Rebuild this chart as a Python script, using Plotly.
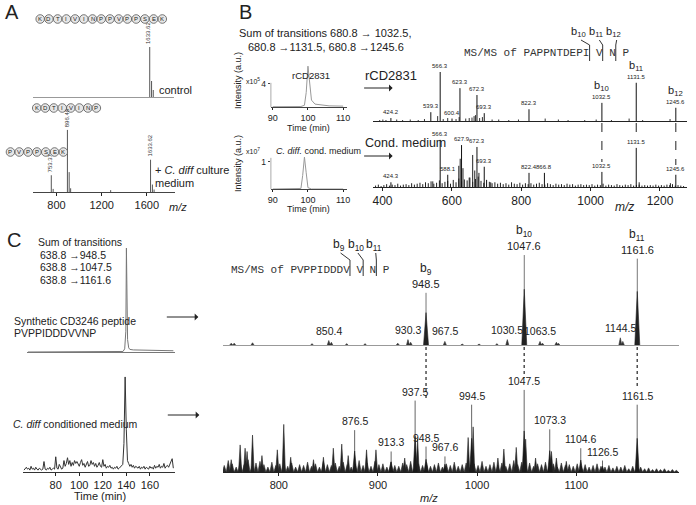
import plotly.graph_objects as go

W, H = 696, 505
FONT = "Liberation Sans"
MONO = "Liberation Mono"

# ---------------- DATA ----------------
# Panel A (MALDI spectra)
A_ticks = [800, 1200, 1600]
A_ctrl_mz = [1633.6, 1650, 1665]
A_ctrl_int = [100, 32, 14]
A_cd_mz = [753.4, 770, 896.5, 912, 925, 1280, 1633.6, 1650, 1665]
A_cd_int = [27, 5, 100, 32, 6, 3, 52, 12, 4]
A_seq1 = "KDTIVINPPVPPSEK"
A_seq2 = "KDTIVINP"
A_seq3 = "PVPPSEK"

# Panel B chromatograms (x10^5 and x10^7)
B_rt_top = [90, 95, 98, 99, 99.5, 100, 100.5, 101, 102, 104, 106, 110]
B_int_top = [0.05, 0.05, 0.08, 0.3, 2.5, 7.1, 4.0, 1.2, 0.5, 0.3, 0.2, 0.15]
B_rt_bot = [90, 97, 98, 98.5, 99, 99.5, 100, 101, 110]
B_int_bot = [0, 0, 0.02, 0.5, 1.18, 0.6, 0.05, 0, 0]

# Panel B MS/MS spectra
B1_main_mz = [424.2, 539.3, 566.3, 600.4, 623.3, 672.3, 693.3, 822.3, 1032.5, 1131.5, 1245.6]
B1_main_int = [6, 18, 100, 5, 67, 53, 16, 24, 37, 78, 27]
B1_minor_mz = [392, 401, 410, 441, 458, 480, 503, 521, 559, 575, 588, 612, 621, 640, 650, 658, 664, 668,
               680, 688, 716, 735, 764, 792, 869, 907, 935, 983, 1016, 1060, 1111, 1150, 1229]
B1_minor_int = [2, 3, 2, 3, 2, 3, 2, 4, 10, 4, 6, 4, 8, 5, 6, 7, 10, 12, 6, 8, 3, 3, 2, 3, 5, 3, 2, 2, 3,
                2, 5, 2, 4]
B2_main_mz = [424.3, 566.3, 588.1, 627.9, 672.3, 693.3, 822.4, 866.8, 1032.5, 1131.5, 1245.6]
B2_main_int = [10, 100, 26, 89, 85, 43, 30, 30, 32, 83, 26]
B2_minor_mz = [545, 620, 624, 632, 650, 660, 666, 678, 700, 712, 1140, 1230]
B2_minor_int = [12, 45, 60, 40, 20, 68, 35, 30, 15, 10, 10, 8]
B2_noise_start, B2_noise_step = 380, 8
B2_noise = [3, 5, 2, 4, 6, 3, 5, 4, 7, 3, 5,
            6, 4, 8, 5, 7, 9, 6, 10, 8, 12, 7,
            9, 14, 8, 11, 13, 7, 15, 10, 18, 12, 16,
            14, 20, 11, 17, 22, 13, 9, 15, 11, 8, 10,
            7, 9, 6, 8, 5, 10, 7, 6, 9, 5, 8,
            6, 8, 5, 7, 9, 6, 5, 8, 6, 4, 7,
            5, 6, 4, 7, 5, 6, 3, 5, 6, 4, 5,
            4, 6, 3, 5, 4, 7, 3, 5, 4, 3, 6,
            4, 3, 5, 4, 6, 3, 4, 5, 3, 4, 3,
            4, 3, 5, 3, 4, 3, 5, 4, 6, 3, 4,
            3, 2]
B_ticks = [400, 600, 800, 1000, 1200]

# Panel C chromatograms
C_rt_top = [53, 120, 132, 136, 137.5, 138.5, 139, 139.5, 140, 141, 142, 145, 150, 160, 170, 180]
C_int_top = [0, 0, 0, 0.5, 3, 20, 100, 60, 12, 4, 2.5, 2, 1.8, 1.5, 1.3, 1.2]
C_rt_bot_start = 53
C_int_bot = [2, 3, 5, 3, 4, 2, 6,
             3, 4, 2, 5, 3, 2, 4, 3, 2, 3,
             11, 3, 2, 4, 3, 5, 2, 3, 4, 3,
             16, 4, 3, 8, 5, 3, 4, 12, 6, 9,
             15, 8, 12, 6, 10, 7, 12, 9, 11, 8,
             6, 10, 13, 7, 9, 5, 8, 11, 6, 7,
             12, 8, 10, 6, 9, 5, 7, 10, 6, 5,
             13, 6, 8, 4, 6, 5, 7, 4, 5, 3,
             5, 4, 6, 3, 4, 5, 6, 8, 30, 100,
             45, 12, 9, 6, 8, 5, 7, 4, 6, 5,
             4, 6, 3, 5, 4, 6, 3, 5, 4, 3,
             6, 4, 5, 3, 7, 4, 6, 5, 8, 4,
             6, 5, 9, 4, 6, 7, 5, 8, 10, 14, 4]
C_time_ticks = [80, 100, 120, 140, 160]

# Panel C MS/MS spectra
C1_main_mz = [948.5, 1047.6, 1161.6]
C1_main_int = [58, 100, 96]
C1_minor_mz = [752, 755, 773.5, 833.5, 850.4, 853, 868.5, 887, 920, 930.3, 933, 967.5, 985, 1002, 1020,
               1030.5, 1063.5, 1066, 1080, 1082, 1144.5, 1147]
C1_minor_int = [2, 2, 2.5, 1.5, 5, 3, 1.5, 1.5, 2, 6, 3, 4, 1, 1, 1.5, 6, 4, 2, 3, 2, 8, 4]
C1_labelled = [850.4, 930.3, 967.5, 1030.5, 1063.5, 1144.5]
C2_main_mz = [876.5, 913.3, 937.5, 948.5, 967.6, 994.5, 1047.5, 1073.3, 1104.6, 1126.5, 1161.5]
C2_main_int = [51, 25, 87, 31, 19, 82, 100, 52, 29, 14, 82]
C2_minor_mz = [752, 761, 766, 768, 773.5, 783, 798.5, 805, 812, 835, 845, 855, 863.5, 870, 888.5, 898,
               927, 940, 991, 996, 1021, 1027, 1039.5, 1049, 1059, 1075, 1080, 1090]
C2_minor_int = [15, 33, 29, 25, 45, 20, 27, 58, 18, 15, 18, 29, 34, 20, 27, 27, 17, 40, 42, 55, 17, 28,
                30, 40, 17, 25, 17, 13]
C2_noise_start, C2_noise_step = 745, 4
C2_noise = [8, 14, 10, 6, 12, 9, 15, 7, 11, 13,
            9, 6, 12, 8, 10, 14, 7, 11, 6, 9,
            8, 12, 7, 10, 6, 13, 9, 8, 11, 7,
            12, 9, 6, 10, 14, 8, 11, 7, 13, 9,
            10, 6, 12, 8, 7, 11, 9, 13, 6, 10,
            8, 12, 7, 9, 11, 6, 10, 8, 12, 7,
            9, 11, 6, 10, 8, 13, 7, 9, 12, 8,
            11, 7, 10, 14, 9, 12, 8, 11, 7, 10,
            9, 12, 8, 10, 6, 11, 8, 9, 7, 10,
            7, 9, 6, 8, 10, 7, 6, 8, 5, 7,
            6, 8, 4, 7, 5, 6, 4, 5, 3, 4,
            3, 4, 2, 3, 2]
C_ticks = [800, 900, 1000, 1100]


# ---------------- helpers ----------------
def dx(x0, x1):
    return [x0 / W, x1 / W]


def dy(y0, y1):
    return [1 - y1 / H, 1 - y0 / H]


def px(x):
    return x / W


def py(y):
    return 1 - y / H


def sticks(mz, h):
    xs, ys = [], []
    for m, v in zip(mz, h):
        xs += [m, m, None]
        ys += [0, v, None]
    return xs, ys


def tris(mz, h, w):
    xs, ys = [], []
    for m, v in zip(mz, h):
        xs += [m - w, m, m + w, None]
        ys += [0, v, 0, None]
    return xs, ys


fig = go.Figure()


def add_sticks(mz, h, ax, color, width=1):
    xs, ys = sticks(mz, h)
    fig.add_trace(go.Scatter(x=xs, y=ys, mode="lines", line=dict(color=color, width=width),
                             xaxis="x" + ax, yaxis="y" + ax, showlegend=False, hoverinfo="skip"))


def add_tris(mz, h, w, ax, color):
    xs, ys = tris(mz, h, w)
    fig.add_trace(go.Scatter(x=xs, y=ys, mode="lines", fill="toself", fillcolor=color,
                             line=dict(color=color, width=0.6),
                             xaxis="x" + ax, yaxis="y" + ax, showlegend=False, hoverinfo="skip"))


def add_line(x, y, ax, color, width=1):
    fig.add_trace(go.Scatter(x=x, y=y, mode="lines", line=dict(color=color, width=width),
                             xaxis="x" + ax, yaxis="y" + ax, showlegend=False, hoverinfo="skip"))


# ---------------- traces ----------------
add_sticks(A_ctrl_mz, A_ctrl_int, "", "#555")
add_sticks(A_cd_mz, A_cd_int, "2", "#555")
add_line(B_rt_top, B_int_top, "3", "#999")
add_line(B_rt_bot, B_int_bot, "4", "#999")
add_sticks(B1_minor_mz, B1_minor_int, "5", "#333")
add_sticks(B1_main_mz, B1_main_int, "5", "#111")
B2_noise_mz = [B2_noise_start + B2_noise_step * i for i in range(len(B2_noise))]
add_sticks(B2_noise_mz, B2_noise, "6", "#222")
add_sticks(B2_minor_mz, B2_minor_int, "6", "#222")
add_sticks(B2_main_mz, B2_main_int, "6", "#111")
add_line(C_rt_top, C_int_top, "7", "#777")
C_rt_bot = [C_rt_bot_start + i for i in range(len(C_int_bot))]
add_line(C_rt_bot, C_int_bot, "8", "#333")
add_tris(C1_minor_mz, C1_minor_int, 1.5, "9", "#333")
add_sticks(C1_main_mz, C1_main_int, "9", "#777")
add_tris(C1_main_mz, [v * 0.62 for v in C1_main_int], 2.5, "9", "#222")
C2_noise_mz = [C2_noise_start + C2_noise_step * i for i in range(len(C2_noise))]
add_tris(C2_noise_mz, C2_noise, 2.0, "10", "#2a2a2a")
add_tris(C2_minor_mz, C2_minor_int, 1.6, "10", "#222")
add_sticks(C2_main_mz, C2_main_int, "10", "#666")
add_tris(C2_main_mz, [v * 0.5 for v in C2_main_int], 2.0, "10", "#1a1a1a")

# ---------------- axes ----------------
A_rng = [589, 1846]
B_rng = [372, 1278]
BT_rng = [89.4, 111.1]
CT_rng = [52, 181]
C_rng = [743.8, 1203.8]


def xa(dom, rng, anchor, **kw):
    d = dict(domain=dom, range=rng, anchor=anchor, showgrid=False, zeroline=False,
             showticklabels=False, ticks="", showline=False, fixedrange=True)
    d.update(kw)
    return d


def ya(dom, rng, anchor, **kw):
    d = dict(domain=dom, range=rng, anchor=anchor, showgrid=False, zeroline=False,
             showticklabels=False, ticks="", showline=False, fixedrange=True)
    d.update(kw)
    return d


tickx = dict(ticks="outside", ticklen=3, tickwidth=1, tickcolor="#222", showticklabels=True)
tickxs = dict(ticks="outside", ticklen=2, tickwidth=1, tickcolor="#222", showticklabels=True)
layout = dict(
    xaxis=xa(dx(30, 172), A_rng, "y", showline=True, linecolor="#999", linewidth=1),
    yaxis=ya(dy(40, 97), [0, 114], "x"),
    xaxis2=xa(dx(30, 173), A_rng, "y2", showline=True, linecolor="#444", linewidth=1,
              tickvals=A_ticks, tickfont=dict(size=11, color="#222"), **tickx),
    yaxis2=ya(dy(120, 192), [0, 116], "x2"),
    xaxis3=xa(dx(270, 347), BT_rng, "y3", showline=True, linecolor="#444", linewidth=1,
              tickvals=[90, 100, 110], tickfont=dict(size=9, color="#222"), **tickxs),
    yaxis3=ya(dy(60, 107), [0, 8.17], "x3", tickvals=[4], ticks="outside", ticklen=2,
              showticklabels=True, tickfont=dict(size=8.5, color="#222")),
    xaxis4=xa(dx(270, 347), BT_rng, "y4", showline=True, linecolor="#444", linewidth=1,
              tickvals=[90, 100, 110], tickfont=dict(size=9, color="#222"), **tickxs),
    yaxis4=ya(dy(150, 189), [0, 1.44], "x4", tickvals=[1], ticks="outside", ticklen=2,
              showticklabels=True, tickfont=dict(size=8.5, color="#222")),
    xaxis5=xa(dx(373, 690), B_rng, "y5", showline=True, linecolor="#222", linewidth=1),
    yaxis5=ya(dy(60, 121), [0, 124.5], "x5"),
    xaxis6=xa(dx(373, 690), B_rng, "y6", showline=True, linecolor="#222", linewidth=1,
              tickvals=B_ticks, tickfont=dict(size=12, color="#222"), **tickx),
    yaxis6=ya(dy(130, 187), [0, 121], "x6"),
    xaxis7=xa(dx(24, 173), CT_rng, "y7", showline=True, linecolor="#777", linewidth=1),
    yaxis7=ya(dy(246, 352), [0, 102], "x7"),
    xaxis8=xa(dx(20, 173), CT_rng, "y8", showline=True, linecolor="#333", linewidth=1,
              tickvals=C_time_ticks, tickfont=dict(size=11, color="#222"), **tickx),
    yaxis8=ya(dy(376, 472), [0, 101], "x8"),
    xaxis9=xa(dx(222, 682), C_rng, "y9", showline=True, linecolor="#999", linewidth=1),
    yaxis9=ya(dy(250, 345), [0, 105.6], "x9"),
    xaxis10=xa(dx(222, 682), C_rng, "y10", showline=True, linecolor="#222", linewidth=1,
               tickvals=C_ticks, tickfont=dict(size=11, color="#222"), **tickx),
    yaxis10=ya(dy(385, 472), [0, 106], "x10"),
)

ann = []
shapes = []


def T(x, y, text, size=11, xanchor="left", yanchor="middle", angle=0, color="#222", family=FONT):
    ann.append(dict(x=px(x), y=py(y), xref="paper", yref="paper", text=text, showarrow=False,
                    xanchor=xanchor, yanchor=yanchor, textangle=angle,
                    font=dict(size=size, color=color, family=family)))


def peak_label(x, y, text, ax, size=6, yshift=1, color="#222"):
    ann.append(dict(x=x, y=y, xref="x" + ax, yref="y" + ax, text=text, showarrow=False,
                    xanchor="center", yanchor="bottom", yshift=yshift,
                    font=dict(size=size, color=color, family=FONT)))


def vlabel(x, y, text, ax, size=6):
    # rotated label sitting above a peak
    half = len(text) * size * 0.28
    ann.append(dict(x=x, y=y, xref="x" + ax, yref="y" + ax, text=text, showarrow=False,
                    xanchor="center", yanchor="middle", yshift=half + 2, xshift=-1, textangle=-90,
                    font=dict(size=size, color="#333", family=FONT)))


def arrow(x0, x1, y):
    ann.append(dict(x=px(x1), y=py(y), xref="paper", yref="paper", ax=x0 - x1, ay=0,
                    text="", showarrow=True, arrowhead=1, arrowsize=1.2, arrowwidth=1,
                    arrowcolor="#222"))


def pline(x0, y0, x1, y1, color="#222", width=1, dash="solid"):
    shapes.append(dict(type="line", xref="paper", yref="paper", x0=px(x0), y0=py(y0),
                       x1=px(x1), y1=py(y1), line=dict(color=color, width=width, dash=dash)))


def circles(seq, x0, y, step, r=4.3):
    for i, ch in enumerate(seq):
        cx = x0 + i * step
        shapes.append(dict(type="circle", xref="paper", yref="paper",
                           x0=px(cx - r), x1=px(cx + r), y0=py(y + r), y1=py(y - r),
                           line=dict(color="#555", width=0.8), fillcolor="#e6e6e6"))
        T(cx, y, ch, size=6, xanchor="center", color="#222")


# ---- Panel A ----
T(0, 12, "A", size=20)
circles(A_seq1, 37.5, 19, 8.8)
circles(A_seq2, 34, 108, 8.6)
circles(A_seq3, 7.5, 152, 8.9)
vlabel(1633.6, 100, "1633.62", "")
vlabel(896.5, 100, "896.46", "2")
vlabel(753.4, 27, "753.37", "2")
vlabel(1633.6, 52, "1633.62", "2")
T(155, 90, "control", size=11)
T(151, 170, "+ <i>C. diff</i> culture", size=11)
T(151, 183, "medium", size=11)
T(165, 207, "<i>m/z</i>", size=11)

# ---- Panel B ----
T(236, 12, "B", size=20)
T(236, 33, "Sum of transitions 680.8 \u2192 1032.5,", size=11)
T(245, 47, "680.8 \u21921131.5, 680.8 \u21921245.6", size=11)
T(237, 80, "Intensity (a.u.)", size=9, xanchor="center", angle=-90)
T(237, 163, "Intensity (a.u.)", size=9, xanchor="center", angle=-90)
T(243, 81, "x10<sup>5</sup>", size=7)
T(243, 151, "x10<sup>7</sup>", size=7)
T(311, 75, "rCD2831", size=9.5, xanchor="center")
T(273, 151, "<i>C. diff.</i> cond. medium", size=9)
T(308, 128, "Time (min)", size=9, xanchor="center")
T(308, 209, "Time (min)", size=9, xanchor="center")
shapes.append(dict(type="line", xref="x3", yref="y3", x0=BT_rng[0], x1=BT_rng[0], y0=0, y1=4.2,
                   line=dict(color="#444", width=1)))
shapes.append(dict(type="line", xref="x4", yref="y4", x0=BT_rng[0], x1=BT_rng[0], y0=0, y1=1.15,
                   line=dict(color="#444", width=1)))
T(363, 75, "rCD2831", size=13)
arrow(363, 393, 88)
T(363, 143, "Cond. medium", size=12.5)
arrow(363, 393, 156)
T(463, 53, "MS/MS of PAPPNTDEPI V N P", size=11, family=MONO, color="#333")
for xb, xl, lab in zip([591.7, 604.9, 618.1], [580, 598.5, 616],
                       ["b<sub>10</sub>", "b<sub>11</sub>", "b<sub>12</sub>"]):
    pline(xb, 45, xb, 61, color="#333")
    pline(xb, 45, xl + 3, 40, color="#333")
    T(xl, 32, lab, size=11, xanchor="center")
for m, v in zip(B1_main_mz, B1_main_int):
    peak_label(m, v, "%g" % m, "5", size=6)
for m, lab in zip([1032.5, 1131.5, 1245.6], ["b<sub>10</sub>", "b<sub>11</sub>", "b<sub>12</sub>"]):
    v = B1_main_int[B1_main_mz.index(m)]
    peak_label(m, v, lab, "5", size=11, yshift=8)
for m, v in zip(B2_main_mz, B2_main_int):
    peak_label(m, v, "%g" % m, "6", size=6)
T(627, 207, "<i>m/z</i>", size=12, xanchor="center")
for m, yend in zip([1032.5, 1131.5, 1245.6], [162, 140, 165]):
    shapes.append(dict(type="line", xref="x5", yref="paper", x0=m, x1=m, y0=py(123), y1=py(yend),
                       line=dict(color="#222", width=1, dash="dash")))

# ---- Panel C ----
T(2, 240, "C", size=20)
T(33, 242, "Sum of transitions", size=10.5)
T(35, 255, "638.8 \u2192948.5", size=10.5)
T(35, 267, "638.8 \u21921047.5", size=10.5)
T(35, 280, "638.8 \u21921161.6", size=10.5)
T(9, 321, "Synthetic CD3246 peptide", size=10.5)
T(9, 333, "PVPPIDDDVVNP", size=10.5)
arrow(164, 197, 317)
T(8, 424, "<i>C. diff</i> conditioned medium", size=10.5)
arrow(165, 198, 415)
T(98, 496, "Time (min)", size=11, xanchor="center")
T(228, 270, "MS/MS of PVPPIDDDV V N P", size=11, family=MONO, color="#333")
for xb, xl, lab in zip([350, 363.3, 376.6], [338.5, 356, 374],
                       ["b<sub>9</sub>", "b<sub>10</sub>", "b<sub>11</sub>"]):
    pline(xb, 260, xb, 276, color="#333")
    pline(xb, 260, xl + 2, 253, color="#333")
    T(xl, 245, lab, size=12, xanchor="center")
for m, v, lab in zip(C1_main_mz, C1_main_int, ["b<sub>9</sub>", "b<sub>10</sub>", "b<sub>11</sub>"]):
    peak_label(m, v, "%g" % m, "9", size=11)
    peak_label(m, v, lab, "9", size=12, yshift=14)
for m in C1_labelled:
    v = C1_minor_int[C1_minor_mz.index(m)]
    peak_label(m, v, "%g" % m, "9", size=10.5, yshift=2)
for m, v in zip(C2_main_mz, C2_main_int):
    peak_label(m, v, "%g" % m, "10", size=10.5)
T(430, 498, "<i>m/z</i>", size=11, xanchor="center")
for m, yend in zip([948.5, 1047.5, 1161.5], [398, 378, 389]):
    shapes.append(dict(type="line", xref="x9", yref="paper", x0=m, x1=m, y0=py(347), y1=py(yend),
                       line=dict(color="#222", width=1.2, dash="dot")))

fig.update_layout(**layout)
fig.update_layout(width=W, height=H, margin=dict(l=0, r=0, t=0, b=0), paper_bgcolor="white",
                  plot_bgcolor="rgba(0,0,0,0)", annotations=ann, shapes=shapes, hovermode=False,
                  font=dict(family=FONT, color="#222"))
fig.write_html("out.html", config={"displayModeBar": False},
               post_script="document.body.style.margin='0px';document.body.style.overflow='hidden';")
